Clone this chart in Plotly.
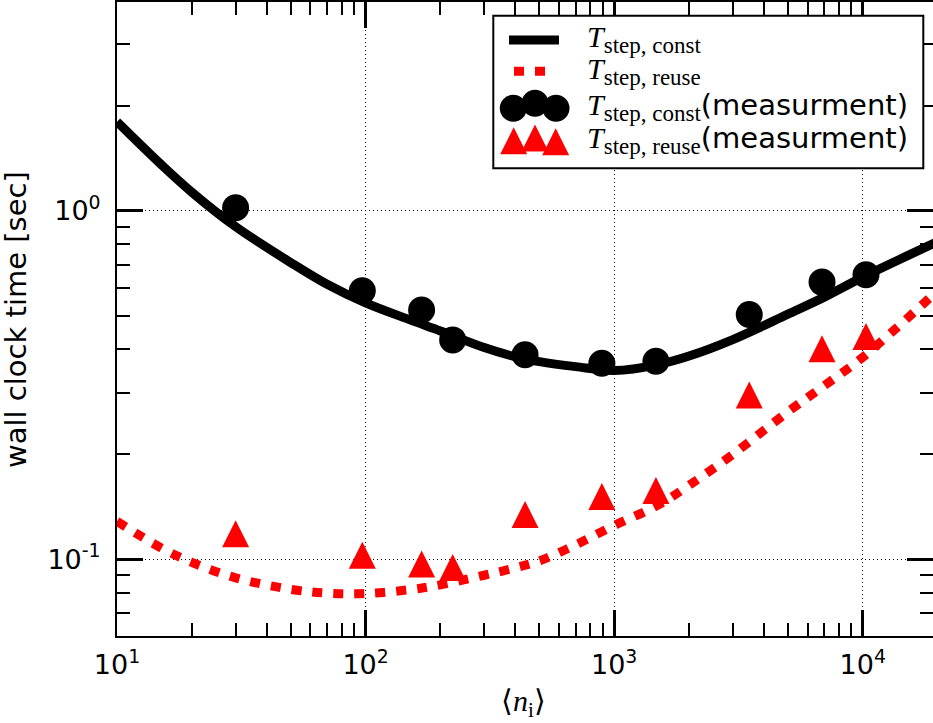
import numpy as np
import plotly.graph_objects as go

# ---------------- data ----------------
n_meas = [30, 97, 168, 224, 438, 892, 1472, 3493, 6855, 10300]
t_const_meas = [1.02, 0.589, 0.519, 0.426, 0.386, 0.365, 0.370, 0.504, 0.624, 0.655]
t_reuse_meas = [0.1184, 0.1027, 0.0969, 0.0947, 0.1345, 0.1514, 0.1576, 0.296, 0.402, 0.436]

n_fit = [10, 15, 20, 30, 50, 70, 100, 150, 200, 300, 400, 500, 700, 1000, 1500, 2000,
         3000, 5000, 7000, 10000, 20000]
t_const_fit = [1.80, 1.36, 1.13, 0.90, 0.71, 0.615, 0.544, 0.487, 0.452, 0.405, 0.381, 0.369,
               0.357, 0.348, 0.362, 0.383, 0.427, 0.505, 0.565, 0.645, 0.815]
t_reuse_fit = [0.1285, 0.108, 0.098, 0.0885, 0.082, 0.080, 0.0798, 0.0818, 0.0845, 0.090, 0.0945,
               0.099, 0.110, 0.125, 0.143, 0.163, 0.200, 0.265, 0.315, 0.38, 0.59]

x_tickvals = [10, 100, 1000, 10000]
x_ticktext = ["10<sup>1</sup>", "10<sup>2</sup>", "10<sup>3</sup>", "10<sup>4</sup>"]
y_tickvals = [0.1, 1]
y_ticktext = ["10<sup>-1</sup>", "10<sup>0</sup>"]

# ---------------- layout geometry ----------------
W, H = 933, 723
L, R, T, B = 117, 0, 2, 87
PW, PH = W - L - R, H - T - B


def xp(px):
    return (px - L) / PW


def yp(py):
    return (H - B - py) / PH


SANS = "DejaVu Sans"
SERIF = "Liberation Serif"

fig = go.Figure()
fig.add_trace(go.Scatter(x=n_fit, y=t_const_fit, mode="lines", line=dict(color="black", width=9, shape="spline"),
                         showlegend=False, hoverinfo="skip"))
fig.add_trace(go.Scatter(x=n_fit, y=t_reuse_fit, mode="lines",
                         line=dict(color="red", width=9, dash="10px,11px", shape="spline"),
                         showlegend=False, hoverinfo="skip"))
fig.add_trace(go.Scatter(x=n_meas, y=t_const_meas, mode="markers",
                         marker=dict(symbol="circle", size=27, color="black", line=dict(width=0)),
                         showlegend=False))
fig.add_trace(go.Scatter(x=n_meas, y=t_reuse_meas, mode="markers",
                         marker=dict(symbol="arrow-down", size=27, angle=180, standoff=13.5,
                                     color="red", line=dict(width=0)),
                         showlegend=False))

minor_x = [k * 10 ** e for e in range(0, 5) for k in range(2, 10)]
minor_y = [k * 10 ** e for e in range(-2, 1) for k in range(2, 10)]

axis_common = dict(
    type="log", showline=True, linecolor="black", linewidth=2, mirror="allticks",
    ticks="inside", ticklen=26, tickwidth=3, tickcolor="black",
    showgrid=True, gridcolor="black", gridwidth=1, griddash="1px,3px",
    zeroline=False, tickmode="array",
    tickfont=dict(family=SANS, size=27, color="black"),
)

fig.update_layout(
    width=W, height=H, margin=dict(l=L, r=R, t=T, b=B, autoexpand=False),
    paper_bgcolor="white", plot_bgcolor="white",
    xaxis=dict(axis_common, range=[1, 1 + PW / 248.6], tickvals=x_tickvals, ticktext=x_ticktext,
               ticklabelstandoff=4,
               minor=dict(tickmode="array", tickvals=minor_x, ticks="inside", ticklen=13, tickwidth=2,
                          tickcolor="black", showgrid=False)),
    yaxis=dict(axis_common, range=[-1.220, -1.220 + PH / 348.6], tickvals=y_tickvals, ticktext=y_ticktext,
               ticklabelstandoff=9,
               minor=dict(tickmode="array", tickvals=minor_y, ticks="inside", ticklen=13, tickwidth=2,
                          tickcolor="black", showgrid=False)),
    showlegend=False,
)

# axis titles
fig.add_annotation(x=xp(16), y=yp(320), xref="paper", yref="paper", text="wall clock time [sec]",
                   textangle=-90, showarrow=False, font=dict(family=SANS, size=29, color="black"),
                   xanchor="center", yanchor="middle")
fig.add_annotation(x=xp(523), y=yp(703), xref="paper", yref="paper",
                   text="\u27e8<i>n</i><sub>i</sub>\u27e9",
                   showarrow=False, font=dict(family=SERIF, size=30, color="black"),
                   xanchor="center", yanchor="middle")

# ---------------- legend (drawn by hand) ----------------
shapes = []
shapes.append(dict(type="rect", xref="paper", yref="paper", x0=xp(493.3), x1=xp(923.3),
                   y0=yp(168.3), y1=yp(15.7), line=dict(color="black", width=2), fillcolor="white",
                   layer="above"))
shapes.append(dict(type="line", xref="paper", yref="paper", x0=xp(509), x1=xp(559), y0=yp(40), y1=yp(40),
                   line=dict(color="black", width=9), layer="above"))
shapes.append(dict(type="line", xref="paper", yref="paper", x0=xp(514), x1=xp(545), y0=yp(71.3), y1=yp(71.3),
                   line=dict(color="red", width=9, dash="10px,11px"), layer="above"))
for cx, cy in [(513.3, 108.3), (535, 103.3), (556, 108.3)]:
    shapes.append(dict(type="circle", xref="paper", yref="paper", xsizemode="pixel", ysizemode="pixel",
                       xanchor=xp(cx), yanchor=yp(cy), x0=-13.5, x1=13.5, y0=-13.5, y1=13.5,
                       fillcolor="black", line=dict(width=0), layer="above"))
for cx, cy in [(513.7, 140.8), (535, 138), (555.7, 141.7)]:
    shapes.append(dict(type="path", xref="paper", yref="paper", xsizemode="pixel", ysizemode="pixel",
                       xanchor=xp(cx), yanchor=yp(cy), path="M -13.5,-13.5 L 13.5,-13.5 L 0,13.5 Z",
                       fillcolor="red", line=dict(width=0), layer="above"))
fig.update_layout(shapes=shapes)

sub_style = "font-size:23px"
labels = [
    ("const", "", 39),
    ("reuse", "", 71),
    ("const", "(measurment)", 107),
    ("reuse", "(measurment)", 140),
]
for kind, extra, cy in labels:
    txt = "<i>T</i><sub><span style='%s'>step, %s</span></sub>" % (sub_style, kind)
    if extra:
        txt += "<span style='font-family:DejaVu Sans;font-size:29px'>%s</span>" % extra
    fig.add_annotation(x=xp(585), y=yp(cy), xref="paper", yref="paper", text=txt, showarrow=False,
                       font=dict(family=SERIF, size=30, color="black"), xanchor="left", yanchor="middle")

fig.write_html("out.html", config={"displayModeBar": False},
               post_script="document.body.style.margin='0';document.body.style.overflow='hidden';")
